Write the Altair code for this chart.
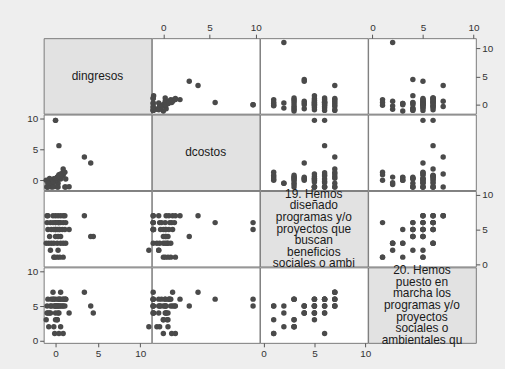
import altair as alt
import pandas as pd
import numpy as np

nan = np.nan

# ---- data (one entry per observation) ----
dingresos = [11.0, 4.45, 4.15, 3.4, 0.4, 0.0, 0.0, 1.6,
             0.9, -0.1, 0.2, 0.5, -0.2, 0.4, -0.6, 0.3,
             -1.1, -0.8, -0.5, -0.2, 0.2, 0.6, 0.9, 1.2,
             -0.7, 0.0, 0.3, 0.6,
             0.0, -0.9, -0.5, -0.2, 0.2, 0.5, 0.8, 0.4, 1.1,
             -1.0, -0.6, -0.3, 0.0, 0.3, 0.6, 0.9, 1.2,
             -1.0, -0.9, -0.3, 0.0, 0.3, 0.6, 0.9, 1.1]
dcostos = [nan, nan, 2.8, 3.75, 5.6, 9.7, 9.7, -1.05,
           1.3, 0.0, 0.5, 0.8, 0.2, 0.9, -0.5, -0.5,
           0.0, -0.7, -1.1, -0.4, 0.4, 0.5, 0.8, 0.2,
           0.3, 0.0, 0.5, 0.2,
           0.0, -1.1, -0.3, 0.2, -1.1, 0.6, 1.0, 0.3, -1.1,
           -1.1, -0.4, -0.2, 0.2, -1.1, 0.7, 1.2, -1.1,
           -1.1, -0.5, -1.1, 0.3, 0.6, 1.0, 1.8, 1.3]
p19 = [2, 4, 4, 7, 6, 5, 6, 5,
       1, 1, 1, 1, 1, 6, 2, 2,
       3, 3, 3, 3, 3, 3, 3, 3,
       4, 4, 4, 4,
       5, 5, 5, 5, 5, 5, 5, 5, 5,
       6, 6, 6, 6, 6, 6, 6, 6,
       7, 7, 7, 7, 7, 7, 7, 7]
p20 = [2, 4, 5, 7, 6, 5, 6, 4,
       1, 1, 3, 5, 5, 1, 4, 5,
       3, 2, 6, 2, 3, 2, 6, 6,
       4, 5, 4, 5,
       3, 4, 5, 6, 5, 6, 5, 4, 6,
       4, 5, 6, 4, 5, 6, 5, 6,
       5, 6, 7, 5, 6, 7, 6, 5]

var_fields = ["dingresos", "dcostos", "p19", "p20"]
var_labels = [
    ["dingresos"],
    ["dcostos"],
    ["19. Hemos", "diseñado", "programas y/o", "proyectos que", "buscan",
     "beneficios", "sociales o ambi"],
    ["20. Hemos", "puesto en", "marcha los", "programas y/o", "proyectos",
     "sociales o", "ambientales qu"],
]
tick_values = [0, 5, 10]

x_domains = {"dingresos": [-1.4, 11.3], "dcostos": [-1.25, 10.4],
             "p19": [-0.35, 10.23], "p20": [-0.43, 10.23]}
y_domains = {"dingresos": [-1.58, 11.75], "dcostos": [-1.6, 10.64],
             "p19": [-0.35, 10.58], "p20": [-0.35, 10.62]}

df = pd.DataFrame({"dingresos": dingresos, "dcostos": dcostos,
                   "p19": p19, "p20": p20})

W = 108.6
H = 76.1
FONT = "Liberation Sans"
POINT = "#4a4a4a"
DIAG = "#e2e2e2"
LH = 11.7

cells = []
for r in range(4):
    for c in range(4):
        if r == c:
            lines = var_labels[r]
            cell = alt.Chart(pd.DataFrame({"k": [0]})).mark_text(
                text=lines, font=FONT, fontSize=12, lineHeight=LH,
                align="center", baseline="middle", color="#1a1a1a",
                dy=-(len(lines) - 1) * LH / 2,
            ).encode(
                x=alt.value(W / 2), y=alt.value(H / 2)
            ).properties(width=W, height=H,
                         view=alt.ViewBackground(fill=DIAG, stroke="#7a7a7a"))
            cells.append(cell)
            continue
        xf = var_fields[c]
        yf = var_fields[r]
        if r == 0 and c in (1, 3):
            xaxis = alt.Axis(orient="top", values=tick_values, title=None)
        elif r == 3 and c in (0, 2):
            xaxis = alt.Axis(orient="bottom", values=tick_values, title=None)
        else:
            xaxis = None
        if c == 3 and r in (0, 2):
            yaxis = alt.Axis(orient="right", values=tick_values, title=None)
        elif c == 0 and r in (1, 3):
            yaxis = alt.Axis(orient="left", values=tick_values, title=None)
        else:
            yaxis = None
        cell = alt.Chart(df).mark_circle(size=30, color=POINT, opacity=1).encode(
            x=alt.X(f"{xf}:Q", scale=alt.Scale(domain=x_domains[xf], nice=False, zero=False),
                    axis=xaxis),
            y=alt.Y(f"{yf}:Q", scale=alt.Scale(domain=y_domains[yf], nice=False, zero=False),
                    axis=yaxis),
        ).properties(width=W, height=H,
                     view=alt.ViewBackground(fill="white", stroke="#7a7a7a"))
        cells.append(cell)

chart = alt.concat(*cells, columns=4, spacing=0, bounds="flush").properties(
    background="#eeeeee",
    padding={"left": 26, "top": 20, "right": 11, "bottom": 10},
).configure_view(
    stroke="#7a7a7a", strokeWidth=1
).configure_axis(
    labelFont=FONT, labelFontSize=10, labelColor="#333333",
    tickColor="#555555", tickSize=4, labelPadding=2, domain=False, grid=False,
)

chart.save("out.html", embed_options={"renderer": "svg", "actions": False})
